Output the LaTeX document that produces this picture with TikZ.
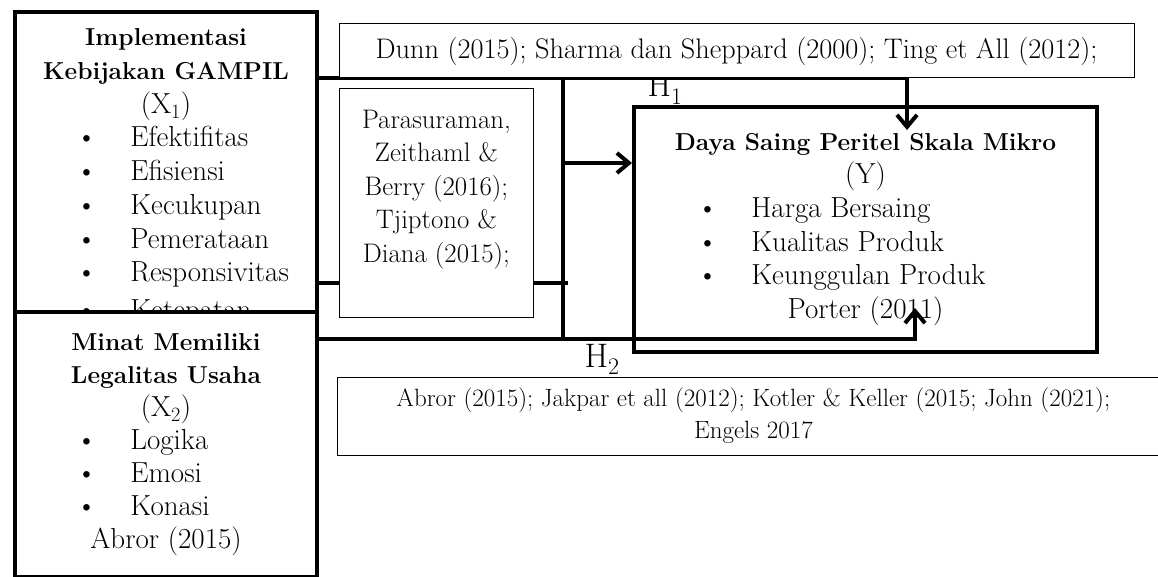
\documentclass[tikz,border=0pt]{standalone}
\usepackage{tikz}
\usetikzlibrary{positioning}
\usetikzlibrary{arrows.meta}

\newcommand{\boxtitle}[1]{{\bfseries\fontsize{24.5}{33.7}\selectfont #1}}
\newcommand{\bitem}[2]{\makebox[#1][l]{\textbullet\hspace{33.5pt}#2}}

\begin{document}
\begin{tikzpicture}[x=1pt,y=-1pt,
  varbox/.style={draw, line width=4pt, fill=white, align=center, inner sep=0pt,
    font=\fontsize{29}{33.7}\selectfont},
  refbox/.style={draw, line width=1pt, fill=white, align=center, inner sep=0pt},
  link/.style={line width=4pt},
  arr/.style={line width=4pt, -{Straight Barb[length=12pt,width=20pt]}},
  hlabel/.style={font=\fontsize{34}{40}\selectfont, inner sep=0pt, anchor=base}]
\useasboundingbox (0,0) rectangle (1158,577);

%% hypothesis labels
\node[hlabel] (h1) at (665,97) {H\textsubscript{1}};
\node[hlabel] (h2) at (602,367) {H\textsubscript{2}};

%% variables
\node[varbox, anchor=north west, minimum width=302, minimum height=330] (x1) at (13,10)
  {\boxtitle{Implementasi}\\ \boxtitle{Kebijakan GAMPIL}\\ (X\textsubscript{1})\\
   \bitem{180pt}{Efektifitas}\\ \bitem{180pt}{Efisiensi}\\ \bitem{180pt}{Kecukupan}\\
   \bitem{180pt}{Pemerataan}\\ \bitem{180pt}{Responsivitas}\\[4pt] \bitem{180pt}{Ketepatan}};
\node[varbox, anchor=north west, minimum width=302, minimum height=265,
  font=\fontsize{29}{33}\selectfont] (x2) at (13,310)
  {\boxtitle{Minat Memiliki}\\ \boxtitle{Legalitas Usaha}\\ (X\textsubscript{2})\\
   \bitem{180pt}{Logika}\\ \bitem{180pt}{Emosi}\\ \bitem{180pt}{Konasi}\\ Abror (2015)};
\node[varbox, anchor=north west, minimum width=463, minimum height=245] (y) at (632,105)
  {\boxtitle{Daya Saing Peritel Skala Mikro}\\ (Y)\\
   \bitem{337pt}{Harga Bersaing}\\ \bitem{337pt}{Kualitas Produk}\\
   \bitem{337pt}{Keunggulan Produk}\\ Porter (2011)};

%% connectors
\coordinate (h1turn) at (907,78);
\coordinate (h1end) at (907,130);
\coordinate (jtop) at (563,78);
\coordinate (jbot) at (563,339);
\coordinate (ymid) at (563,163);
\coordinate (rline) at (568,283);
\coordinate (h2turn) at (915,339);
\coordinate (h2end) at (915,308);
\draw[arr] (h1turn -| x1.east) -- (h1turn) -- (h1end);
\draw[link] (jtop) -- (jbot);
\draw[link] (rline -| x1.east) -- (rline);
\draw[arr] (ymid) -- (ymid -| y.west);
\draw[arr] (h2turn -| x2.east) -- (h2turn) -- (h2end);

%% references
\node[refbox, minimum width=795, minimum height=54, font=\fontsize{28.3}{30}\selectfont] (dunn) at (736.5,51)
  {Dunn (2015); Sharma dan Sheppard (2000); Ting et All (2012);};
\node[refbox, line width=0.8pt, anchor=north west, minimum width=194, minimum height=229,
  font=\fontsize{26.8}{33.5}\selectfont] (para) at (339,88)
  {Parasuraman,\\ Zeithaml \&\\ Berry (2016);\\ Tjiptono \&\\ Diana (2015);\\ \mbox{}};
\node[refbox, minimum width=833, minimum height=78, font=\fontsize{25}{32}\selectfont] (abror) at (753.5,416)
  {Abror (2015); Jakpar et all (2012); Kotler \& Keller (2015; John (2021);\\ Engels 2017};
\end{tikzpicture}
\end{document}
